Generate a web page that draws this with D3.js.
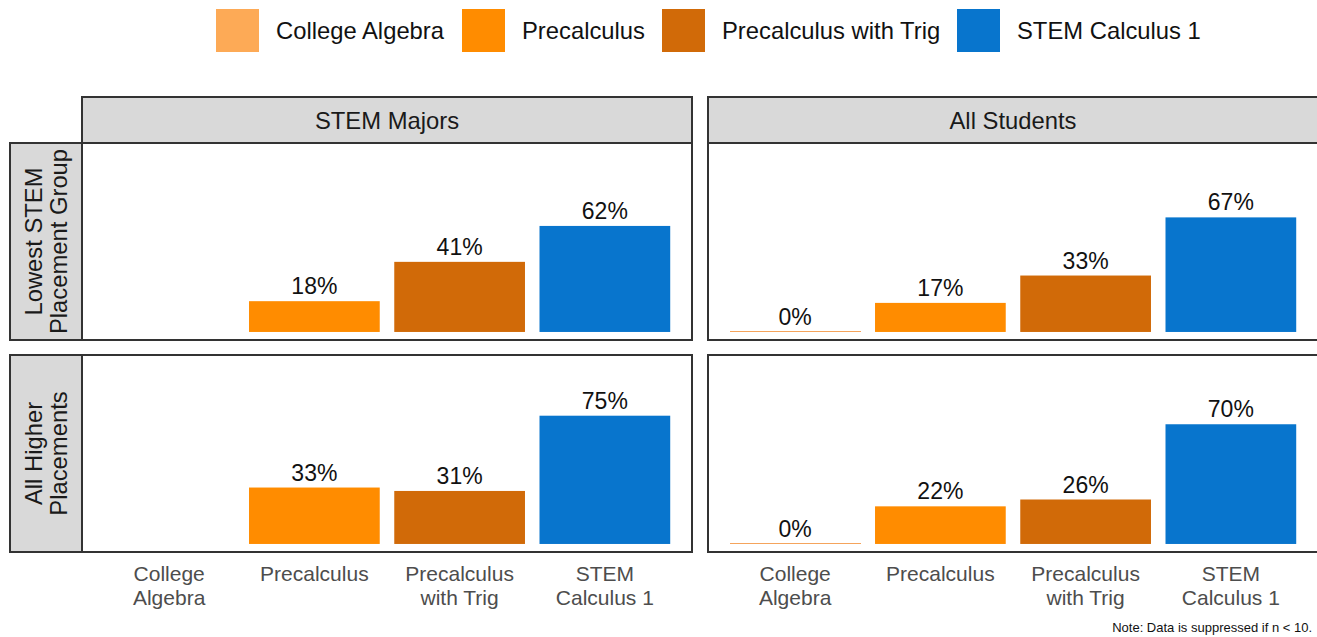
<!DOCTYPE html>
<html lang="en">
<head>
    <meta charset="UTF-8">
    <title>Course success by placement group</title>
    <script src="https://cdn.jsdelivr.net/npm/d3@7"></script>
    <style>
        body { margin: 0; background: #fff; }
        svg text { font-family: "Liberation Sans", Arial, sans-serif; }
        .strip { fill: #d9d9d9; stroke: #333; stroke-width: 2px; }
        .panel { fill: #fff; stroke: #333; stroke-width: 2px; }
    </style>
</head>
<body>
<svg id="chart" width="1317" height="637"></svg>
<script>
    // data
    var courses = ['College Algebra', 'Precalculus', 'Precalculus with Trig', 'STEM Calculus 1'];
    var courseColors = ['#fdaa56', '#ff8c00', '#d16a08', '#0875cd'];
    var tickLabels = [['College', 'Algebra'], ['Precalculus'], ['Precalculus', 'with Trig'], ['STEM', 'Calculus 1']];
    var columns = ['STEM Majors', 'All Students'];
    var rowLabels = [['Lowest STEM', 'Placement Group'], ['All Higher', 'Placements']];
    // null = suppressed (n < 10)
    var stemLowest = [null, 18, 41, 62];
    var allLowest = [0, 17, 33, 67];
    var stemHigher = [null, 33, 31, 75];
    var allHigher = [0, 22, 26, 70];
    var values = [[stemLowest, allLowest], [stemHigher, allHigher]];

    var svg = d3.select('#chart');

    var panelX = [82, 708], panelW = 610;
    var panelY = [143, 355], panelH = 197;
    var stripTop = 97, stripLeft = 10;

    var x = d3.scaleBand().domain(courses).range([0, panelW])
        .paddingInner(0.1).paddingOuter(0.15);
    var y = d3.scaleLinear().domain([-4.7, 110.5]).range([panelH, 0]);
    var color = d3.scaleOrdinal().domain(courses).range(courseColors);

    // legend
    var legendX = [216, 462, 662, 957];
    var legend = svg.append('g').selectAll('g')
        .data(courses)
        .enter().append('g')
        .attr('transform', (d, i) => 'translate(' + legendX[i] + ',9)');
    legend.append('rect')
        .attr('width', 43).attr('height', 43)
        .attr('fill', d => color(d));
    legend.append('text')
        .attr('x', 60).attr('y', 22).attr('dy', '0.35em')
        .attr('font-size', 23.8)
        .attr('fill', '#111')
        .text(d => d);

    // column strips
    columns.forEach(function (c, ci) {
        svg.append('rect').attr('class', 'strip')
            .attr('x', panelX[ci]).attr('y', stripTop)
            .attr('width', panelW).attr('height', panelY[0] - stripTop);
        svg.append('text')
            .attr('x', panelX[ci] + panelW / 2)
            .attr('y', (stripTop + panelY[0]) / 2 + 1).attr('dy', '0.35em')
            .attr('text-anchor', 'middle')
            .attr('font-size', 23.8).attr('fill', '#1a1a1a')
            .text(c);
    });

    // row strips
    rowLabels.forEach(function (lines, ri) {
        svg.append('rect').attr('class', 'strip')
            .attr('x', stripLeft).attr('y', panelY[ri])
            .attr('width', panelX[0] - stripLeft).attr('height', panelH);
        var cx = (stripLeft + panelX[0]) / 2, cy = panelY[ri] + panelH / 2;
        var t = svg.append('text')
            .attr('transform', 'translate(' + cx + ',' + cy + ') rotate(-90)')
            .attr('text-anchor', 'middle')
            .attr('font-size', 23.8).attr('fill', '#1a1a1a');
        lines.forEach(function (l, li) {
            t.append('tspan')
                .attr('x', 0)
                .attr('y', (li - (lines.length - 1) / 2) * 25)
                .attr('dy', '0.35em')
                .text(l);
        });
    });

    // panels
    values.forEach(function (rowVals, ri) {
        rowVals.forEach(function (vals, ci) {
            var g = svg.append('g')
                .attr('transform', 'translate(' + panelX[ci] + ',' + panelY[ri] + ')');
            g.append('rect').attr('class', 'panel')
                .attr('width', panelW).attr('height', panelH);

            var data = courses.map((c, i) => ({course: c, value: vals[i]}))
                .filter(d => d.value !== null);

            g.selectAll('.bar')
                .data(data)
                .enter().append('rect')
                .attr('class', 'bar')
                .attr('x', d => x(d.course))
                .attr('width', x.bandwidth())
                .attr('y', d => d.value > 0 ? y(d.value) : Math.round(y(0)) - 1)
                .attr('height', d => d.value > 0 ? y(0) - y(d.value) : 1)
                .attr('shape-rendering', d => d.value > 0 ? null : 'crispEdges')
                .attr('fill', d => d.value > 0 ? color(d.course) : '#f5a45c');

            g.selectAll('.lbl')
                .data(data)
                .enter().append('text')
                .attr('class', 'lbl')
                .attr('x', d => x(d.course) + x.bandwidth() / 2)
                .attr('y', d => y(d.value) - 7)
                .attr('text-anchor', 'middle')
                .attr('font-size', 23).attr('fill', '#111')
                .text(d => d.value + '%');
        });
    });

    // x axis labels under bottom row
    panelX.forEach(function (px) {
        courses.forEach(function (c, i) {
            var t = svg.append('text')
                .attr('x', px + x(c) + x.bandwidth() / 2)
                .attr('text-anchor', 'middle')
                .attr('font-size', 21).attr('fill', '#4d4d4d');
            tickLabels[i].forEach(function (l, li) {
                t.append('tspan')
                    .attr('x', px + x(c) + x.bandwidth() / 2)
                    .attr('y', 581 + li * 23.5)
                    .text(l);
            });
        });
    });

    svg.append('text')
        .attr('x', 1312).attr('y', 632)
        .attr('text-anchor', 'end')
        .attr('font-size', 13).attr('fill', '#111')
        .text('Note: Data is suppressed if n < 10.');
</script>
</body>
</html>
